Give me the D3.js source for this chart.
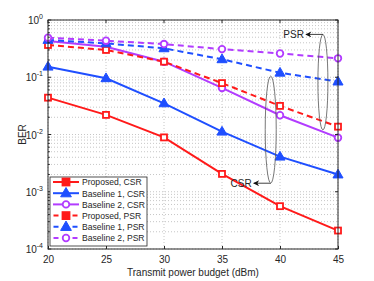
<!DOCTYPE html>
<html lang="en">
<head>
    <meta charset="UTF-8">
    <title>BER vs transmit power</title>
    <script src="https://d3js.org/d3.v7.min.js"></script>
    <style>
        body { margin: 0; background: #fff; }
        text { font-family: "Liberation Sans", Arial, sans-serif; fill: #262626; }
        .grid line { stroke: #b8b8b8; stroke-dasharray: 1,2; stroke-width: 0.8; }
    </style>
</head>
<body>
    <div id="chart"></div>
    <script type="text/javascript">
        // data
        const power = [20, 25, 30, 35, 40, 45];
        const proposedCSR = [0.044, 0.022, 0.0089, 0.00205, 0.00056, 0.00021];
        const baseline1CSR = [0.153, 0.096, 0.035, 0.0112, 0.0041, 0.002];
        const baseline2CSR = [0.43, 0.34, 0.187, 0.065, 0.0217, 0.0088];
        const proposedPSR = [0.366, 0.30, 0.187, 0.079, 0.0316, 0.0137];
        const baseline1PSR = [0.448, 0.39, 0.32, 0.206, 0.12, 0.084];
        const baseline2PSR = [0.49, 0.435, 0.38, 0.31, 0.26, 0.214];
        const xTicks = [20, 25, 30, 35, 40, 45];
        const yExps = [0, -1, -2, -3, -4];

        const red = "#ff1a1a", blue = "#1f4fff", purple = "#b23cff";
        const series = [
            {name: "Proposed, CSR", values: proposedCSR, color: red, marker: "square", dashed: false},
            {name: "Baseline 1, CSR", values: baseline1CSR, color: blue, marker: "triangle", dashed: false},
            {name: "Baseline 2, CSR", values: baseline2CSR, color: purple, marker: "circle", dashed: false},
            {name: "Proposed, PSR", values: proposedPSR, color: red, marker: "square", dashed: true},
            {name: "Baseline 1, PSR", values: baseline1PSR, color: blue, marker: "triangle", dashed: true},
            {name: "Baseline 2, PSR", values: baseline2PSR, color: purple, marker: "circle", dashed: true}
        ];

        const margin = {top: 20, right: 36, bottom: 32, left: 48},
            width = 374 - margin.left - margin.right,
            height = 281 - margin.top - margin.bottom;

        const x = d3.scaleLinear().domain([20, 45]).range([0, width]);
        const y = d3.scaleLog().domain([1e-4, 1]).range([height, 0]);

        const svg = d3.select("#chart").append("svg")
            .attr("width", 374)
            .attr("height", 281)
            .append("g")
            .attr("transform", "translate(" + margin.left + "," + margin.top + ")");

        // grid: major and minor (log) lines
        const minor = [];
        for (let e = -4; e < 0; e++) for (let m = 2; m <= 9; m++) minor.push(m * Math.pow(10, e));
        const grid = svg.append("g").attr("class", "grid");
        grid.selectAll(".gy").data(minor.concat(yExps.map(e => Math.pow(10, e))))
            .enter().append("line")
            .attr("x1", 0).attr("x2", width)
            .attr("y1", d => y(d)).attr("y2", d => y(d));
        grid.selectAll(".gx").data(xTicks)
            .enter().append("line")
            .attr("x1", d => x(d)).attr("x2", d => x(d))
            .attr("y1", 0).attr("y2", height);

        // series lines
        const line = d3.line()
            .x((d, i) => x(power[i]))
            .y(d => y(d));

        series.forEach(s => {
            svg.append("path")
                .datum(s.values)
                .attr("fill", "none")
                .attr("stroke", s.color)
                .attr("stroke-width", 2)
                .attr("stroke-dasharray", s.dashed ? "6,4" : null)
                .attr("d", line);
        });

        function drawMarker(g, type, color, cx, cy, legend) {
            if (type === "square") {
                const sz = legend ? 7 : 6;
                g.append("rect")
                    .attr("x", cx - sz / 2).attr("y", cy - sz / 2)
                    .attr("width", sz).attr("height", sz)
                    .attr("fill", legend ? color : "#fff")
                    .attr("stroke", color).attr("stroke-width", 1.8);
            } else if (type === "triangle") {
                g.append("path")
                    .attr("d", d3.symbol().type(d3.symbolTriangle).size(legend ? 50 : 44)())
                    .attr("transform", "translate(" + cx + "," + (cy + 0.5) + ")")
                    .attr("fill", color)
                    .attr("stroke", color).attr("stroke-width", 1);
            } else {
                g.append("circle")
                    .attr("cx", cx).attr("cy", cy).attr("r", 3.3)
                    .attr("fill", "#fff")
                    .attr("stroke", color).attr("stroke-width", 1.8);
            }
        }

        series.forEach(s => {
            const g = svg.append("g");
            s.values.forEach((v, i) => drawMarker(g, s.marker, s.color, x(power[i]), y(v), false));
        });

        // axes box
        svg.append("rect")
            .attr("width", width).attr("height", height)
            .attr("fill", "none").attr("stroke", "#262626").attr("stroke-width", 1);

        const xAxis = svg.append("g")
            .attr("transform", "translate(0," + height + ")")
            .call(d3.axisBottom(x).tickValues(xTicks).tickSize(-3).tickPadding(7).tickFormat(d3.format("d")));
        xAxis.select(".domain").remove();
        xAxis.selectAll("text").attr("font-size", 10).attr("fill", "#262626");
        xAxis.selectAll("line").attr("stroke", "#262626");
        svg.append("g").selectAll("line").data(xTicks).enter().append("line")
            .attr("x1", d => x(d)).attr("x2", d => x(d)).attr("y1", 0).attr("y2", 3)
            .attr("stroke", "#262626");

        // y axis ticks with superscript labels
        const yAxis = svg.append("g");
        yAxis.selectAll("line.maj").data(yExps).enter().append("line")
            .attr("x1", 0).attr("x2", 3)
            .attr("y1", d => y(Math.pow(10, d))).attr("y2", d => y(Math.pow(10, d)))
            .attr("stroke", "#262626");
        yAxis.selectAll("line.min").data(minor).enter().append("line")
            .attr("x1", 0).attr("x2", 1.8)
            .attr("y1", d => y(d)).attr("y2", d => y(d))
            .attr("stroke", "#262626");
        yAxis.selectAll("line.majr").data(yExps).enter().append("line")
            .attr("x1", width - 3).attr("x2", width)
            .attr("y1", d => y(Math.pow(10, d))).attr("y2", d => y(Math.pow(10, d)))
            .attr("stroke", "#262626");
        const yl = yAxis.selectAll("text.yl").data(yExps).enter().append("text")
            .attr("x", -5).attr("y", d => y(Math.pow(10, d)) + 4)
            .attr("text-anchor", "end").attr("font-size", 10);
        yl.append("tspan").text("10");
        yl.append("tspan").attr("dy", -5).attr("font-size", 7).text(d => d);

        // axis titles
        svg.append("text")
            .attr("x", width / 2).attr("y", height + 27)
            .attr("text-anchor", "middle").attr("font-size", 10)
            .text("Transmit power budget (dBm)");
        svg.append("text")
            .attr("transform", "translate(" + (-22) + "," + (height / 2) + ") rotate(-90)")
            .attr("text-anchor", "middle").attr("font-size", 10)
            .text("BER");

        // annotations: ellipses + arrows
        const defs = d3.select("svg").append("defs");
        defs.append("marker").attr("id", "arr")
            .attr("viewBox", "0 0 10 10").attr("refX", 9).attr("refY", 5)
            .attr("markerUnits", "userSpaceOnUse")
            .attr("markerWidth", 8).attr("markerHeight", 6).attr("orient", "auto")
            .append("path").attr("d", "M0,0 L10,5 L0,10 L3,5 Z").attr("fill", "#111");

        function ellipse(cxv, yTop, yBot, rx) {
            const cx = x(cxv), t = y(yTop), b = y(yBot);
            svg.append("ellipse")
                .attr("cx", cx).attr("cy", (t + b) / 2)
                .attr("rx", rx).attr("ry", (b - t) / 2)
                .attr("fill", "none").attr("stroke", "#555").attr("stroke-width", 0.8);
            return {cx: cx, t: t, b: b};
        }
        const e1 = ellipse(43.7, 0.56, 0.012, 5);
        svg.append("line")
            .attr("x1", e1.cx).attr("y1", e1.t).attr("x2", e1.cx - 17).attr("y2", e1.t)
            .attr("stroke", "#111").attr("stroke-width", 0.8).attr("marker-end", "url(#arr)");
        svg.append("text").attr("x", e1.cx - 19).attr("y", e1.t + 4)
            .attr("text-anchor", "end").attr("font-size", 10).text("PSR");

        const e2 = ellipse(39.2, 0.105, 0.00141, 5.5);
        svg.append("line")
            .attr("x1", e2.cx).attr("y1", e2.b).attr("x2", e2.cx - 17).attr("y2", e2.b)
            .attr("stroke", "#111").attr("stroke-width", 0.8).attr("marker-end", "url(#arr)");
        svg.append("text").attr("x", e2.cx - 19).attr("y", e2.b + 4)
            .attr("text-anchor", "end").attr("font-size", 10).text("CSR");

        // legend
        const leg = svg.append("g").attr("transform", "translate(2," + (height - 72) + ")");
        leg.append("rect").attr("width", 97).attr("height", 69)
            .attr("fill", "#fff").attr("stroke", "#262626").attr("stroke-width", 0.8);
        series.forEach((s, i) => {
            const ly = 5 + i * 11.2;
            leg.append("line")
                .attr("x1", 3).attr("x2", 29).attr("y1", ly).attr("y2", ly)
                .attr("stroke", s.color).attr("stroke-width", 2)
                .attr("stroke-dasharray", s.dashed ? "5,4.5" : null)
                .attr("stroke-dashoffset", s.dashed ? -0.5 : 0);
            drawMarker(leg, s.marker, s.color, 16, ly, true);
            leg.append("text").attr("x", 32).attr("y", ly + 3.3)
                .attr("font-size", 8.6).text(s.name);
        });
    </script>
</body>
</html>
